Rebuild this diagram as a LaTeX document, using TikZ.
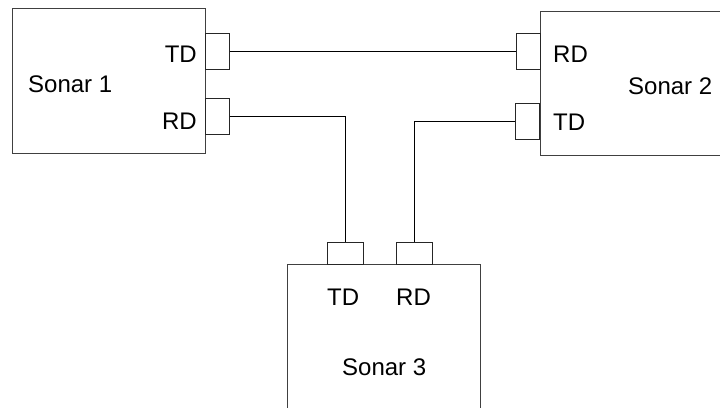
\documentclass[tikz,border=0pt]{standalone}
\usepackage{fontspec}
\setmainfont{Liberation Sans}
\usetikzlibrary{positioning}

\begin{document}
\begin{tikzpicture}[
    x=1pt, y=-1pt,
    font=\fontsize{24}{28}\selectfont,
    sonar/.style={draw=black!75, line width=1pt, inner sep=0pt},
    port/.style={draw=black!85, line width=1pt, fill=white, inner sep=0pt,
                 minimum width=24pt, minimum height=36pt},
    bport/.style={port, minimum width=36pt, minimum height=22pt},
    lbl/.style={inner sep=0pt},
    wire/.style={line width=1pt},
]
\clip (0,0) rectangle (720,407);

% ── sonar units ──────────────────────────────────────────────────────────────
\node[sonar, minimum width=193pt, minimum height=145pt] (s1) at (108.5,80.5) {};
\node[sonar, minimum width=200pt, minimum height=144pt] (s2) at (640,83) {};
\node[sonar, minimum width=193pt, minimum height=160pt] (s3) at (383.5,344) {};

\node[lbl, anchor=base west] (s1-name) at (28,92)  {Sonar 1};
\node[lbl, anchor=base west] (s2-name) at (628,94) {Sonar 2};
\node[lbl, anchor=base west] (s3-name) at (342,375) {Sonar 3};

% ── ports ────────────────────────────────────────────────────────────────────
\node[port] (p1td) at (217,51)  {};
\node[port] (p1rd) at (217,116) {};
\node[port] (p2rd) at (528,51)  {};
\node[port] (p2td) at (527,121) {};
\node[bport] (p3td) at (345,253) {};
\node[bport] (p3rd) at (414,253) {};

\node[lbl, anchor=base east] (p1td-lbl) at (197,62)  {TD};
\node[lbl, anchor=base east] (p1rd-lbl) at (197,129) {RD};
\node[lbl, anchor=base west] (p2rd-lbl) at (553,62)  {RD};
\node[lbl, anchor=base west] (p2td-lbl) at (553,130) {TD};
\node[lbl, anchor=base west] (p3td-lbl) at (327,305) {TD};
\node[lbl, anchor=base west] (p3rd-lbl) at (396,305) {RD};

% ── wiring ───────────────────────────────────────────────────────────────────
\draw[wire] (p1td) -- (p2rd);
\draw[wire] (p1rd.east) -| (p3td.north);
\draw[wire] (p2td.west) -| (p3rd.north);

\end{tikzpicture}
\end{document}
